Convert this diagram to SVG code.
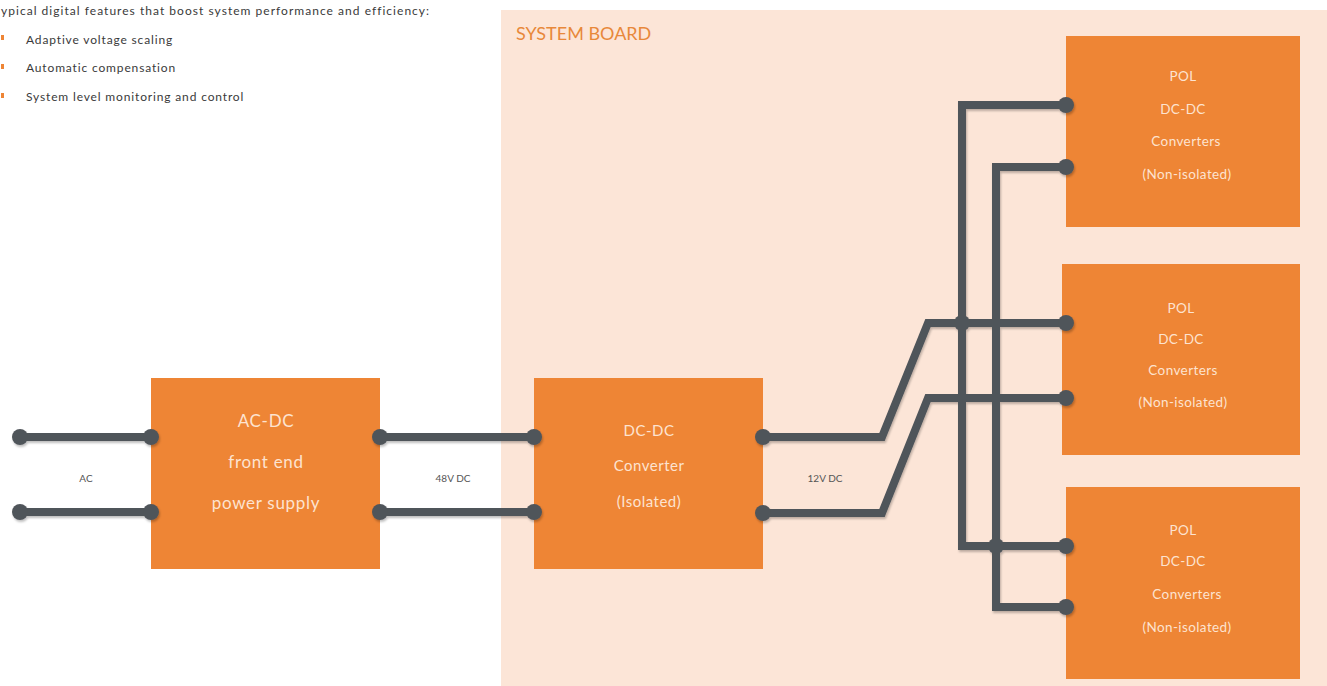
<svg xmlns="http://www.w3.org/2000/svg" width="1327" height="686" viewBox="0 0 1327 686">
<defs>
<style>
.box{fill:#ee8535}
.bt{font-family:Lato,"Liberation Sans",sans-serif;fill:#fde3d0;text-anchor:middle}
.w{fill:none;stroke:#50555a;stroke-width:8;stroke-linejoin:miter}
.d{fill:#50555a}
.lbl{font-family:Lato,"Liberation Sans",sans-serif;font-size:10px;fill:#555;text-anchor:middle}
.hd{font-family:Lato,"Liberation Sans",sans-serif;font-size:12px;letter-spacing:0.85px;fill:#3a3a3a}
.hd.top{letter-spacing:1.03px}
.bul{fill:#ee8535}
</style>
<filter id="sh" x="-5%" y="-5%" width="110%" height="110%">
<feDropShadow dx="1" dy="2" stdDeviation="1" flood-color="#000" flood-opacity="0.25"/>
</filter>
</defs>
<rect width="1327" height="686" fill="#ffffff"/>
<g id="header">
<text class="hd top" x="1" y="15">ypical digital features that boost system performance and efficiency:</text>
<rect class="bul" x="1" y="35" width="3" height="5"/>
<text class="hd" x="26" y="44">Adaptive voltage scaling</text>
<rect class="bul" x="1" y="64" width="3" height="5"/>
<text class="hd" x="26" y="72">Automatic compensation</text>
<rect class="bul" x="1" y="93" width="3" height="5"/>
<text class="hd" x="26" y="101">System level monitoring and control</text>
</g>
<g id="system-board">
<rect x="501" y="10" width="826" height="676" fill="#fce5d7"/>
<text x="516" y="40" font-family="Lato,'Liberation Sans',sans-serif" font-size="18" fill="#e8883a">SYSTEM BOARD</text>
</g>
<g id="acdc">
<rect class="box" x="151" y="378" width="229" height="191"/>
<text class="bt" x="266" y="427" font-size="17" letter-spacing="0.7">AC-DC</text>
<text class="bt" x="266" y="468" font-size="17" letter-spacing="0.7">front end</text>
<text class="bt" x="266" y="509" font-size="17" letter-spacing="0.7">power supply</text>
</g>
<g id="dcdc">
<rect class="box" x="534" y="378" width="229" height="191"/>
<text class="bt" x="649" y="436" font-size="15" letter-spacing="0.5">DC-DC</text>
<text class="bt" x="649" y="471" font-size="15" letter-spacing="0.5">Converter</text>
<text class="bt" x="649" y="507" font-size="15" letter-spacing="0.5">(Isolated)</text>
</g>
<g id="pol1">
<rect class="box" x="1066" y="36" width="234" height="191"/>
<text class="bt" x="1183" y="81" font-size="13.5" letter-spacing="0.4">POL</text>
<text class="bt" x="1183" y="114" font-size="13.5" letter-spacing="0.4">DC-DC</text>
<text class="bt" x="1186" y="146" font-size="13.5" letter-spacing="0.4">Converters</text>
<text class="bt" x="1187" y="179" font-size="13.5" letter-spacing="0.4">(Non-isolated)</text>
</g>
<g id="pol2">
<rect class="box" x="1062" y="264" width="238" height="191"/>
<text class="bt" x="1181" y="313" font-size="13.5" letter-spacing="0.4">POL</text>
<text class="bt" x="1181" y="344" font-size="13.5" letter-spacing="0.4">DC-DC</text>
<text class="bt" x="1183" y="375" font-size="13.5" letter-spacing="0.4">Converters</text>
<text class="bt" x="1183" y="407" font-size="13.5" letter-spacing="0.4">(Non-isolated)</text>
</g>
<g id="pol3">
<rect class="box" x="1066" y="487" width="234" height="192"/>
<text class="bt" x="1183" y="535" font-size="13.5" letter-spacing="0.4">POL</text>
<text class="bt" x="1183" y="566" font-size="13.5" letter-spacing="0.4">DC-DC</text>
<text class="bt" x="1187" y="599" font-size="13.5" letter-spacing="0.4">Converters</text>
<text class="bt" x="1187" y="632" font-size="13.5" letter-spacing="0.4">(Non-isolated)</text>
</g>
<g id="connectors" filter="url(#sh)">
<path class="w" d="M20 437H151M20 512H151"/>
<path class="w" d="M380 437H534M380 512H534"/>
<path class="w" d="M763 437H882L928 323H1066"/>
<path class="w" d="M763 513H882L928 398H1066"/>
<path class="w" d="M1066 105H962V546H1066"/>
<path class="w" d="M1066 167H996V607H1066"/>
<circle class="d" cx="20" cy="437" r="8"/>
<circle class="d" cx="20" cy="512" r="8"/>
<circle class="d" cx="151" cy="437" r="8"/>
<circle class="d" cx="151" cy="512" r="8"/>
<circle class="d" cx="380" cy="437" r="8"/>
<circle class="d" cx="380" cy="512" r="8"/>
<circle class="d" cx="534" cy="437" r="8"/>
<circle class="d" cx="534" cy="512" r="8"/>
<circle class="d" cx="763" cy="437" r="8"/>
<circle class="d" cx="763" cy="513" r="8"/>
<circle class="d" cx="1066" cy="105" r="8"/>
<circle class="d" cx="1066" cy="167" r="8"/>
<circle class="d" cx="1066" cy="323" r="8"/>
<circle class="d" cx="1066" cy="398" r="8"/>
<circle class="d" cx="1066" cy="546" r="8"/>
<circle class="d" cx="1066" cy="607" r="8"/>
<circle class="d" cx="962" cy="323" r="8"/>
<circle class="d" cx="996" cy="546" r="8"/>
</g>
<g id="labels">
<text class="lbl" x="86" y="482">AC</text>
<text class="lbl" x="453" y="482">48V DC</text>
<text class="lbl" x="825" y="482">12V DC</text>
</g>
</svg>
